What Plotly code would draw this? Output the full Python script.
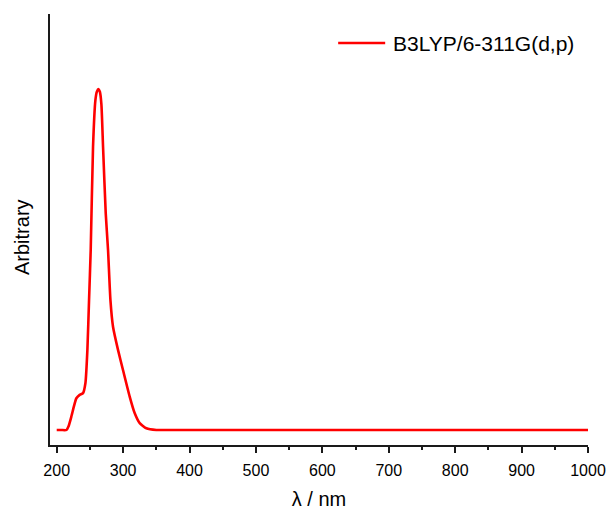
import plotly.graph_objects as go

# Simulated UV-Vis absorption spectrum (arbitrary intensity)
wavelength_nm = [200, 207, 214.6, 218, 222, 226, 229.6, 234.6, 239.6, 243.2, 246.2,
                 248.7, 251.2, 254.7, 258.3, 260.6, 262.8, 265.0, 267.3, 269.8,
                 273.8, 277.3, 280.9, 284.8, 292.3, 299.8, 309.9, 317.5, 325, 335,
                 350, 370, 500, 700, 1000]
intensity = [0, 0, 0, 0.012, 0.039, 0.07, 0.093, 0.103, 0.108, 0.137, 0.235,
             0.381, 0.528, 0.83, 0.968, 0.993, 1.0, 0.992, 0.955, 0.83,
             0.636, 0.528, 0.381, 0.303, 0.235, 0.176, 0.098, 0.049, 0.02, 0.005,
             0, 0, 0, 0, 0]
series_name = "B3LYP/6-311G(d,p)"

x_ticks = [200, 300, 400, 500, 600, 700, 800, 900, 1000]
x_tick_labels = [str(v) for v in x_ticks]

FONT = "Arial, Liberation Sans, sans-serif"
AXIS_COLOR = "#1a1a1a"
LINE_COLOR = "#ff0000"

fig = go.Figure()
fig.add_trace(go.Scatter(
    x=wavelength_nm, y=intensity, mode="lines", name=series_name,
    line=dict(color=LINE_COLOR, width=2.6, shape="spline", smoothing=0.5),
    showlegend=False,
))

# Legend key drawn as a short line plus label in the upper right
fig.add_shape(type="line", xref="paper", yref="paper",
              x0=(338 - 50) / 537.7, x1=(385 - 50) / 537.7,
              y0=(445 - 43) / 431, y1=(445 - 43) / 431,
              line=dict(color=LINE_COLOR, width=2.6))

fig.update_layout(
    width=608, height=512,
    margin=dict(l=50, r=20.3, t=14, b=67),
    paper_bgcolor="white", plot_bgcolor="white",
    font=dict(family=FONT, color="black"),
    xaxis=dict(
        range=[189.9, 1000], showgrid=False, zeroline=False, automargin=False,
        showline=True, linecolor=AXIS_COLOR, linewidth=2,
        tickmode="array", tickvals=x_ticks, ticktext=x_tick_labels,
        ticks="outside", ticklen=6, tickwidth=1.5, tickcolor=AXIS_COLOR,
        tickfont=dict(size=16, family=FONT), ticklabelstandoff=4,
        minor=dict(tickmode="linear", tick0=250, dtick=100, ticks="outside",
                   ticklen=3, tickwidth=1.5, tickcolor=AXIS_COLOR),
        title=dict(text="λ / nm", font=dict(size=20, family=FONT), standoff=14),
    ),
    yaxis=dict(
        range=[-0.044, 1.22], showgrid=False, zeroline=False, automargin=False,
        showline=True, linecolor=AXIS_COLOR, linewidth=2,
        showticklabels=False, ticks="",
    ),
    annotations=[
        dict(text="Arbitrary", textangle=-90, xref="paper", yref="paper",
             x=-0.052, y=0.4826, xanchor="center", yanchor="middle",
             showarrow=False, font=dict(size=20, family=FONT)),
        dict(text=series_name, xref="paper", yref="paper",
             x=(391 - 50) / 537.7, y=(445 - 43) / 431,
             xanchor="left", yanchor="middle", showarrow=False,
             font=dict(size=21, family=FONT)),
    ],
)

fig.write_html("out.html")
